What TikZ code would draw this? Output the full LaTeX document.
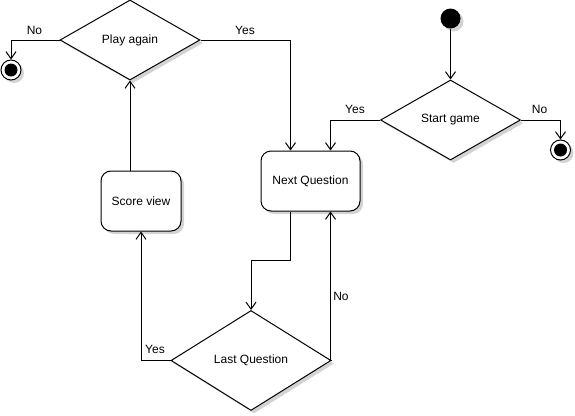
\documentclass[tikz,border=0pt]{standalone}
\usepackage{fontspec}
\setmainfont{Liberation Sans}
\usetikzlibrary{shapes.geometric,arrows.meta,shadows,calc}
\tikzset{
  shad/.style={drop shadow={shadow xshift=3pt,shadow yshift=-3pt,opacity=0.35,fill=gray}},
  decision/.style={draw,diamond,line width=1pt,fill=white,shad,inner sep=0pt,aspect=1.75,font=\fontsize{12}{14}\selectfont},
  act/.style={draw,rectangle,rounded corners=10pt,line width=1pt,fill=white,shad,inner sep=0pt,font=\fontsize{12}{14}\selectfont},
  finalnode/.style={draw,circle,line width=1pt,fill=white,shad,minimum size=20pt,inner sep=0pt},
  startnode/.style={circle,fill=black,shad,minimum size=20pt,inner sep=0pt},
  arr/.style={line width=1pt,-{Straight Barb[length=7pt,width=10pt,line width=1pt]}},
  lbl/.style={font=\fontsize{12}{14}\selectfont,inner sep=0pt}
}
\begin{document}
\begin{tikzpicture}[x=1pt,y=-1pt]
\useasboundingbox (0,0) rectangle (575,415);
% nodes
\node[decision,minimum width=140pt,minimum height=80pt] (pa) at (130,40) {Play again};
\node[decision,minimum width=140pt,minimum height=80pt] (sg) at (450.5,120) {Start game};
\node[decision,minimum width=160pt,minimum height=100pt] (lq) at (251,360.5) {Last Question};
\node[act,minimum width=99pt,minimum height=60pt] (nq) at (310.5,181) {Next Question};
\node[act,minimum width=80pt,minimum height=60pt] (sv) at (141,201) {Score view};
\node[startnode] (st) at (450.5,18.5) {};
\node[finalnode] (e1) at (11,70) {};
\fill (e1.center) circle (6.5pt);
\node[finalnode] (e2) at (560.5,150) {};
\fill (e2.center) circle (6.5pt);
% connectors
\draw[arr] (pa.west) -| (e1.north);
\draw[arr] (pa.east) -| ([xshift=-20pt]nq.north);
\draw[arr] (sv.north -| pa.south) -- (pa.south);
\draw[arr] ([xshift=-20pt]nq.south) -- ++(0,49) -| (lq.north);
\draw[arr] (lq.west) -| (sv.south);
\draw[arr] (lq.east) -| ([xshift=20pt]nq.south);
\draw[arr] (st) -- (sg.north);
\draw[arr] (sg.west) -| ([xshift=20pt]nq.north);
\draw[arr] (sg.east) -| (e2.north);
% labels
\node[lbl] (l1) at (34.5,30) {No};
\node[lbl] (l2) at (245,30) {Yes};
\node[lbl] (l3) at (355,109) {Yes};
\node[lbl] (l4) at (539.5,109) {No};
\node[lbl] (l5) at (155,349.5) {Yes};
\node[lbl] (l6) at (341,296.5) {No};
\end{tikzpicture}
\end{document}
